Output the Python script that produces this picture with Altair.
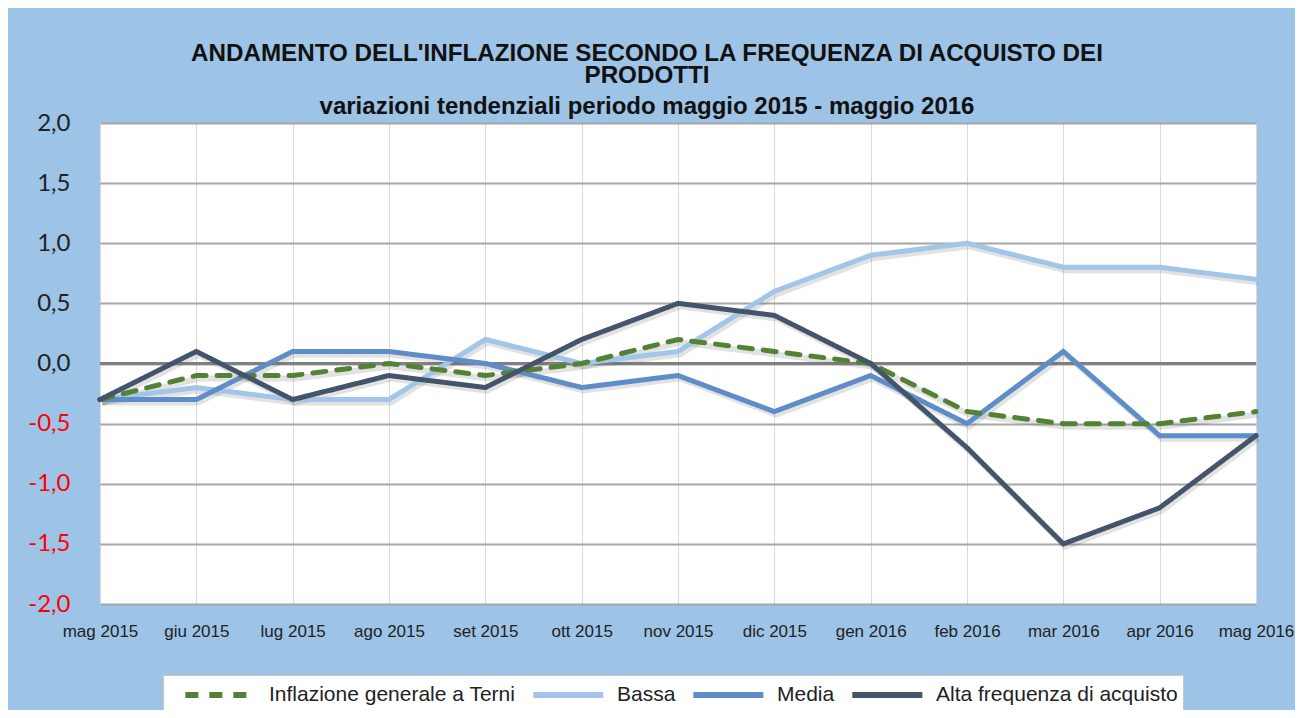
import altair as alt
import pandas as pd

months = ["mag 2015", "giu 2015", "lug 2015", "ago 2015", "set 2015", "ott 2015", "nov 2015",
          "dic 2015", "gen 2016", "feb 2016", "mar 2016", "apr 2016", "mag 2016"]
inflazione = [-0.3, -0.1, -0.1, 0.0, -0.1, 0.0, 0.2, 0.1, 0.0, -0.4, -0.5, -0.5, -0.4]
bassa = [-0.3, -0.2, -0.3, -0.3, 0.2, 0.0, 0.1, 0.6, 0.9, 1.0, 0.8, 0.8, 0.7]
media = [-0.3, -0.3, 0.1, 0.1, 0.0, -0.2, -0.1, -0.4, -0.1, -0.5, 0.1, -0.6, -0.6]
alta = [-0.3, 0.1, -0.3, -0.1, -0.2, 0.2, 0.5, 0.4, 0.0, -0.7, -1.5, -1.2, -0.6]

series_names = ["Inflazione generale a Terni", "Bassa", "Media", "Alta frequenza di acquisto"]
series_colors = ["#548235", "#A2C5E9", "#5E8DC8", "#44546A"]
series_dash = [[13, 11], [1, 0], [1, 0], [1, 0]]
y_ticks = [-2.0, -1.5, -1.0, -0.5, 0.0, 0.5, 1.0, 1.5, 2.0]
zero_level = [0.0]

# draw order: Bassa, Media, Inflazione, Alta (last on top)
rows = []
for name, vals in [(series_names[1], bassa), (series_names[2], media),
                   (series_names[0], inflazione), (series_names[3], alta)]:
    for m, v in zip(months, vals):
        rows.append({"mese": m, "valore": v, "serie": name})
df = pd.DataFrame(rows)

x_enc = alt.X("mese:N", sort=months, scale=alt.Scale(type="point", padding=0),
              axis=alt.Axis(title=None, labelAngle=0, grid=True, gridColor="#D9D9D9", gridWidth=1,
                            domain=False, ticks=False, labelFont="Liberation Sans", labelFontSize=17,
                            labelColor="#222222", labelPadding=19))
y_enc = alt.Y("valore:Q", scale=alt.Scale(domain=[-2, 2], nice=False),
              axis=alt.Axis(title=None, values=y_ticks, grid=True, gridColor="#A6A6A6", gridWidth=2,
                            domain=False, ticks=False, labelFont="Lato", labelFontSize=24,
                            labelPadding=30,
                            labelExpr="replace(replace(format(datum.value, '.1f'), '.', ','), '\u2212', '-')",
                            labelColor={"condition": {"test": "datum.value < 0", "value": "#FF0000"},
                                        "value": "#222222"}))

zero = alt.Chart(pd.DataFrame({"valore": zero_level})).mark_rule(color="#808080", strokeWidth=3).encode(
    y=y_enc
)

shadow = alt.Chart(df).mark_line(strokeWidth=6, color="#606060", opacity=0.18,
                                 xOffset=2, yOffset=3).encode(
    x=x_enc,
    y=y_enc,
    detail="serie:N",
)

lines = alt.Chart(df).mark_line(strokeWidth=5, strokeCap="round").encode(
    x=x_enc,
    y=y_enc,
    color=alt.Color("serie:N", scale=alt.Scale(domain=series_names, range=series_colors),
                    legend=alt.Legend(title=None)),
    strokeDash=alt.StrokeDash("serie:N", scale=alt.Scale(domain=series_names, range=series_dash),
                              legend=alt.Legend(title=None)),
)

chart = alt.layer(zero, shadow, lines).properties(
    width=1156,
    height=481,
    title=alt.TitleParams(
        text=["ANDAMENTO DELL'INFLAZIONE SECONDO LA FREQUENZA DI ACQUISTO DEI", "PRODOTTI"],
        subtitle="variazioni tendenziali periodo maggio 2015 - maggio 2016",
        anchor="middle", dx=-31, offset=-8,
        font="Liberation Sans", fontSize=24.2, fontWeight="bold", color="#111111", lineHeight=22,
        subtitleFont="Liberation Sans", subtitleFontSize=24, subtitleFontWeight="bold",
        subtitleColor="#111111", subtitlePadding=7,
    ),
    autosize=alt.AutoSizeParams(type="none"),
    padding={"left": 92, "top": 115, "right": 39, "bottom": 106},
    background="#9DC3E6",
).configure_view(fill="white", strokeWidth=0).configure_legend(
    orient="none", legendX=63, legendY=552, direction="horizontal",
    fillColor="white", strokeColor="#C8C8C8", padding=5,
    symbolType="M0.2,0H6.2", symbolSize=545, symbolStrokeWidth=6,
    labelFont="Liberation Sans", labelFontSize=21, labelColor="#222222", labelLimit=500,
    labelOffset=71, columnPadding=-10,
)

chart.save("out.html", embed_options={"renderer": "svg", "actions": False})
